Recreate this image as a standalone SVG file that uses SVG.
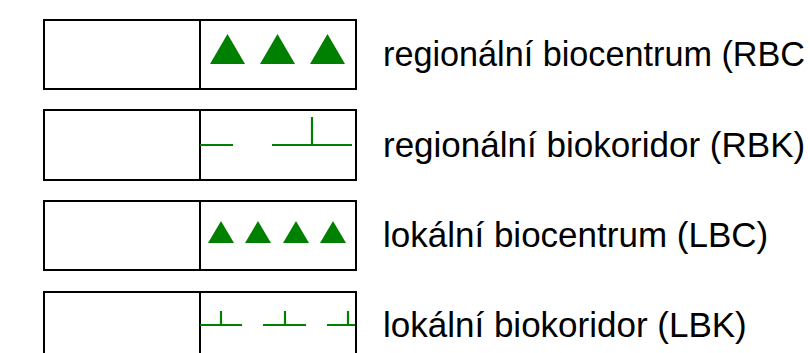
<svg xmlns="http://www.w3.org/2000/svg" width="810" height="353" viewBox="0 0 810 353">
<style>
.box{fill:#fff;stroke:#000;stroke-width:2}
.div{stroke:#000;stroke-width:2}
.tri{fill:#008000}
.ln{stroke:#008000;stroke-width:2.2;fill:none}
.lbl{font-family:"Liberation Sans",Arial,sans-serif;font-size:35px;fill:#000}
</style>
<rect width="810" height="353" fill="#fff"/>
<g id="rbc">
<rect class="box" x="44" y="20" width="312" height="69"/>
<line class="div" x1="200" y1="20" x2="200" y2="89"/>
<polygon class="tri" points="210,64 227.5,34 245,64"/>
<polygon class="tri" points="260,64 277.5,34 295,64"/>
<polygon class="tri" points="310,64 327.5,34 345,64"/>
<text class="lbl" x="383" y="66" textLength="422" lengthAdjust="spacingAndGlyphs">regionální biocentrum (RBC</text>
</g>
<g id="rbk">
<rect class="box" x="44" y="110" width="312" height="70"/>
<line class="div" x1="200" y1="110" x2="200" y2="180"/>
<path class="ln" d="M200,145H233M272,145H352M312,145V117"/>
<text class="lbl" x="383" y="157">regionální biokoridor (RBK)</text>
</g>
<g id="lbc">
<rect class="box" x="44" y="201" width="312" height="69"/>
<line class="div" x1="200" y1="201" x2="200" y2="270"/>
<polygon class="tri" points="208,243 221,221 234,243"/>
<polygon class="tri" points="245,243 258,221 271,243"/>
<polygon class="tri" points="283,243 296,221 309,243"/>
<polygon class="tri" points="320,243 333,221 346,243"/>
<text class="lbl" x="383" y="247">lokální biocentrum (LBC)</text>
</g>
<g id="lbk">
<rect class="box" x="44" y="292" width="312" height="80"/>
<line class="div" x1="200" y1="292" x2="200" y2="372"/>
<path class="ln" d="M200,325H242M221,325V311M263,325H306M285,325V311M327,325H355M348,325V311"/>
<text class="lbl" x="383" y="337">lokální biokoridor (LBK)</text>
</g>
<g id="connectors"></g>
</svg>
